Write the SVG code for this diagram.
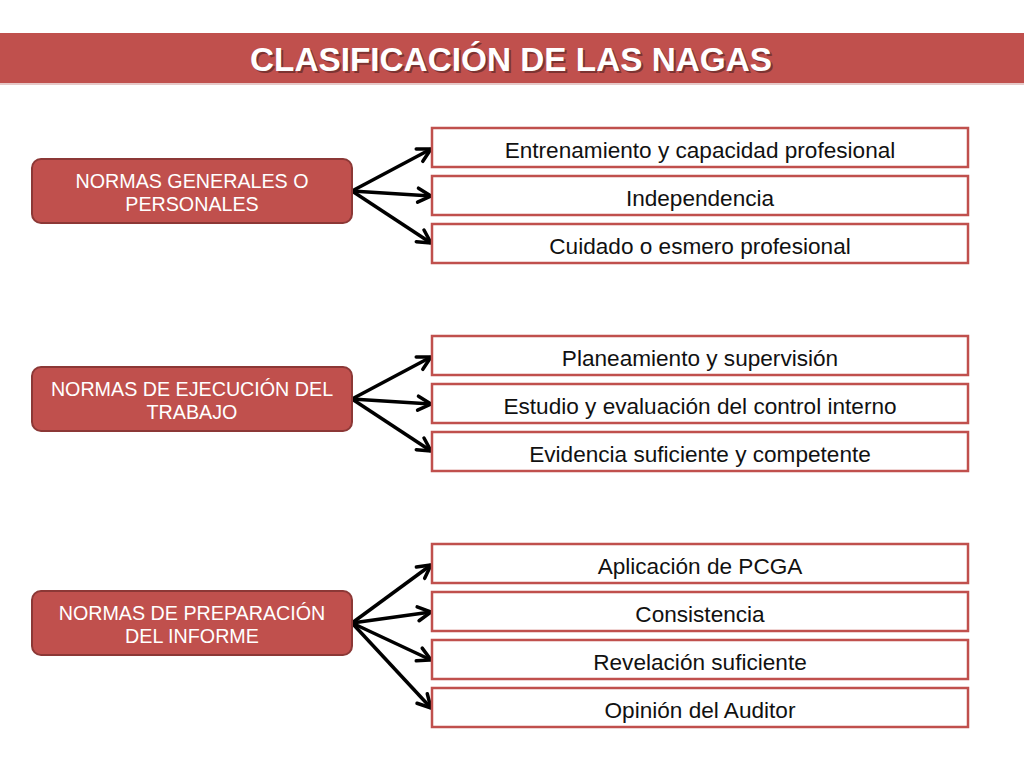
<svg xmlns="http://www.w3.org/2000/svg" width="1024" height="768" viewBox="0 0 1024 768">
<defs>
<style>
.title{font-family:"Liberation Sans",Arial,sans-serif;font-weight:bold;font-size:34px;fill:#fff;}
.shadow{font-family:"Liberation Sans",Arial,sans-serif;font-weight:bold;font-size:34px;fill:#000;opacity:0.35;}
.lbox{fill:#c0504d;stroke:#8c3836;stroke-width:2;}
.ltxt{font-family:"Liberation Sans",Arial,sans-serif;font-size:19.7px;fill:#fff;text-anchor:middle;}
.rbox{fill:#fff;stroke:#c0504d;stroke-width:2.5;}
.rtxt{font-family:"Liberation Sans",Arial,sans-serif;font-size:22.6px;fill:#111;text-anchor:middle;}
.conn{stroke:#000;stroke-width:3.5;fill:none;marker-end:url(#arr);}
</style>
<marker id="arr" viewBox="0 0 20 20" refX="17" refY="10" markerWidth="20" markerHeight="20" markerUnits="userSpaceOnUse" orient="auto">
<path d="M4,3 L17,10 L4,17" fill="none" stroke="#000" stroke-width="3.5" stroke-linecap="round" stroke-linejoin="miter"/>
</marker>
</defs>
<rect width="1024" height="768" fill="#fff"/>
<g id="title">
<rect x="0" y="33" width="1024" height="50" fill="#c0504d"/>
<rect x="0" y="83" width="1024" height="2" fill="#e6c9c8"/>
<text class="shadow" x="513" y="73" text-anchor="middle" textLength="522" lengthAdjust="spacingAndGlyphs">CLASIFICACIÓN DE LAS NAGAS</text>
<text class="title" x="511" y="71" text-anchor="middle" textLength="522" lengthAdjust="spacingAndGlyphs">CLASIFICACIÓN DE LAS NAGAS</text>
</g>
<g id="connectors">
<path class="conn" d="M352,191 L431,149"/>
<path class="conn" d="M352,191 L431,196"/>
<path class="conn" d="M352,191 L431,243"/>
<path class="conn" d="M352,399 L431,357"/>
<path class="conn" d="M352,399 L431,404"/>
<path class="conn" d="M352,399 L431,451"/>
<path class="conn" d="M352,623 L431,565"/>
<path class="conn" d="M352,623 L431,612"/>
<path class="conn" d="M352,623 L431,660"/>
<path class="conn" d="M352,623 L431,708"/>
</g>
<g id="n1">
<rect class="lbox" x="32" y="159" width="320" height="64" rx="9"/>
<text class="ltxt" x="192" y="188">NORMAS GENERALES O</text>
<text class="ltxt" x="192" y="211">PERSONALES</text>
</g>
<g id="n2">
<rect class="lbox" x="32" y="367" width="320" height="64" rx="9"/>
<text class="ltxt" x="192" y="396">NORMAS DE EJECUCIÓN DEL</text>
<text class="ltxt" x="192" y="419">TRABAJO</text>
</g>
<g id="n3">
<rect class="lbox" x="32" y="591" width="320" height="64" rx="9"/>
<text class="ltxt" x="192" y="620">NORMAS DE PREPARACIÓN</text>
<text class="ltxt" x="192" y="643">DEL INFORME</text>
</g>
<g id="r1"><rect class="rbox" x="432" y="128" width="536" height="39"/><text class="rtxt" x="700" y="158">Entrenamiento y capacidad profesional</text></g>
<g id="r2"><rect class="rbox" x="432" y="176" width="536" height="39"/><text class="rtxt" x="700" y="206">Independencia</text></g>
<g id="r3"><rect class="rbox" x="432" y="224" width="536" height="39"/><text class="rtxt" x="700" y="254">Cuidado o esmero profesional</text></g>
<g id="r4"><rect class="rbox" x="432" y="336" width="536" height="39"/><text class="rtxt" x="700" y="366">Planeamiento y supervisión</text></g>
<g id="r5"><rect class="rbox" x="432" y="384" width="536" height="39"/><text class="rtxt" x="700" y="414">Estudio y evaluación del control interno</text></g>
<g id="r6"><rect class="rbox" x="432" y="432" width="536" height="39"/><text class="rtxt" x="700" y="462">Evidencia suficiente y competente</text></g>
<g id="r7"><rect class="rbox" x="432" y="544" width="536" height="39"/><text class="rtxt" x="700" y="574">Aplicación de PCGA</text></g>
<g id="r8"><rect class="rbox" x="432" y="592" width="536" height="39"/><text class="rtxt" x="700" y="622">Consistencia</text></g>
<g id="r9"><rect class="rbox" x="432" y="640" width="536" height="39"/><text class="rtxt" x="700" y="670">Revelación suficiente</text></g>
<g id="r10"><rect class="rbox" x="432" y="688" width="536" height="39"/><text class="rtxt" x="700" y="718">Opinión del Auditor</text></g>
</svg>
